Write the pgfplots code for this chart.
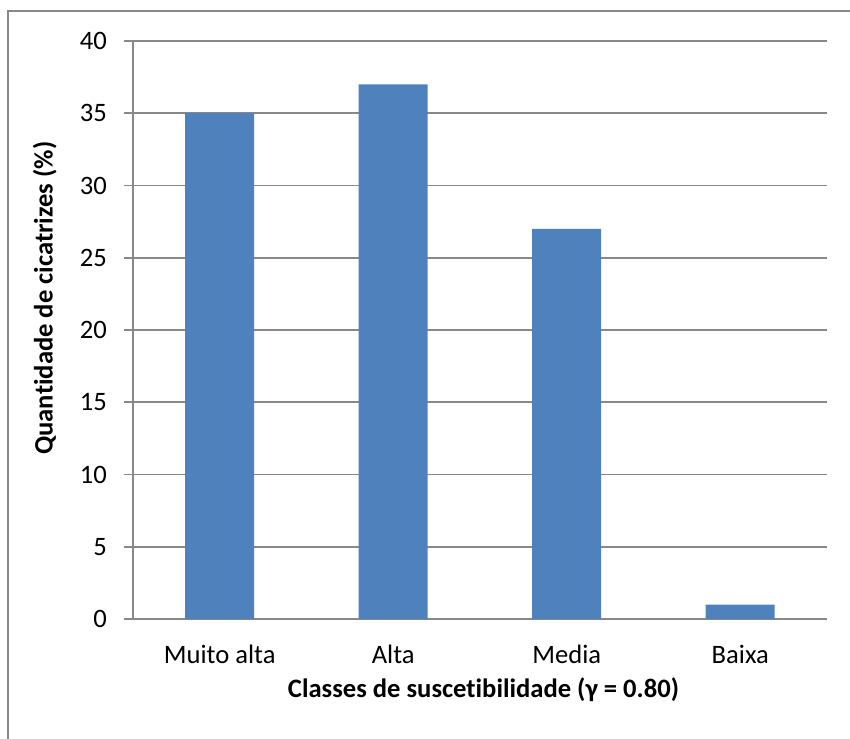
\documentclass[border=0pt]{standalone}
\usepackage{fontspec}
\setmainfont{Carlito}[Ligatures=NoCommon]
\usepackage{pgfplots}
\pgfplotsset{compat=1.18}
\definecolor{barblue}{HTML}{4F81BD}
\definecolor{gridgray}{HTML}{888888}
\begin{document}
\begin{tikzpicture}[x=1bp,y=1bp,font=\fontsize{13.3bp}{16bp}\selectfont]
\useasboundingbox (-66.5,-60) rectangle (358.5,309.5);
\draw[gridgray, line width=0.9bp] (-62.5,-61) -- (-62.5,304) -- (359,304);
\begin{axis}[
  at={(0,0)}, anchor=south west,
  scale only axis, width=347bp, height=289bp,
  ymin=0, ymax=40, ytick={0,5,...,40},
  xmin=-0.5, xmax=3.5, xtick=data,
  xticklabels={Muito alta,Alta,Media,Baixa},
  ybar, bar width=34.5bp,
  axis x line*=bottom, axis y line*=left,
  axis line style={-, draw=gridgray, line width=0.9bp},
  ymajorgrids, grid style={draw=gridgray, line width=0.9bp},
  ytick style={draw=gridgray, line width=0.9bp},
  xtick style={draw=none},
  tick align=outside, major tick length=4.5bp,
  yticklabel style={anchor=east, xshift=-5bp},
  xticklabel style={anchor=north, yshift=-5bp},
  /pgf/number format/assume math mode=true,
  xlabel={\bfseries Classes de suscetibilidade (γ = 0.80)},
  ylabel={\bfseries Quantidade de cicatrizes (\%)},
  xlabel style={at={(axis description cs:0.505,0)}, anchor=north, yshift=-26bp},
  ylabel style={at={(axis description cs:-0.127,0.555)}, anchor=center},
  clip=false,
]
\addplot[fill=barblue, draw=none] coordinates {(0,35) (1,37) (2,27) (3,1)};
\end{axis}
\end{tikzpicture}
\end{document}
